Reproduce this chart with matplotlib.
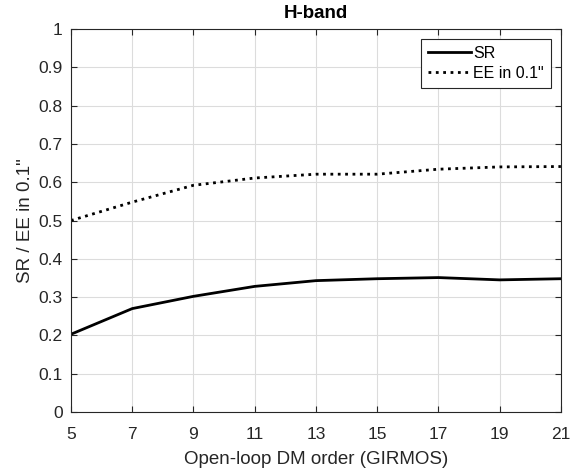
import matplotlib
matplotlib.use("Agg")
import matplotlib.pyplot as plt

dm_order = [5, 7, 9, 11, 13, 15, 17, 19, 21]
sr = [0.203, 0.270, 0.302, 0.328, 0.343, 0.348, 0.351, 0.345, 0.348]
ee = [0.500, 0.548, 0.592, 0.611, 0.621, 0.621, 0.634, 0.640, 0.641]
yticks = [0, 0.1, 0.2, 0.3, 0.4, 0.5, 0.6, 0.7, 0.8, 0.9, 1]
ytick_labels = ["0", "0.1", "0.2", "0.3", "0.4", "0.5", "0.6", "0.7", "0.8", "0.9", "1"]

plt.rcParams['font.family'] = ['Liberation Sans', 'DejaVu Sans']
fig = plt.figure(figsize=(5.71, 4.71), dpi=100)
ax = fig.add_axes([0.1243, 0.1253, 0.858, 0.813])
ax.plot(dm_order, sr, color='black', lw=2, label='SR')
ax.plot(dm_order, ee, color='black', lw=2, ls=':', label='EE in 0.1"')
ax.set_xlim(5, 21)
ax.set_ylim(0, 1)
ax.set_xticks(dm_order)
ax.set_yticks(yticks)
ax.set_yticklabels(ytick_labels)
ax.grid(True, color='#dcdcdc', lw=0.8)
ax.set_axisbelow(True)
ax.tick_params(direction='in', top=True, right=True, labelsize=12.5, colors='#262626', length=4)
ax.tick_params(axis='x', pad=11)
ax.tick_params(axis='y', pad=6)
for s in ax.spines.values():
    s.set_color('#262626')
    s.set_linewidth(0.8)
ax.set_xlabel('Open-loop DM order (GIRMOS)', fontsize=13.5, color='#262626', labelpad=6)
ax.set_ylabel('SR / EE in 0.1"', fontsize=13.5, color='#262626', labelpad=3.5)
ax.set_title('H-band', fontsize=13.5, fontweight='bold', pad=8)
leg = ax.legend(loc='upper right', fontsize=11.5, fancybox=False, edgecolor='#262626',
                framealpha=1, handlelength=2.7, handletextpad=0.15, borderaxespad=0.6,
                borderpad=0.45, labelspacing=0.3)
leg.get_frame().set_linewidth(0.8)
fig.savefig('out.png', dpi=100)
